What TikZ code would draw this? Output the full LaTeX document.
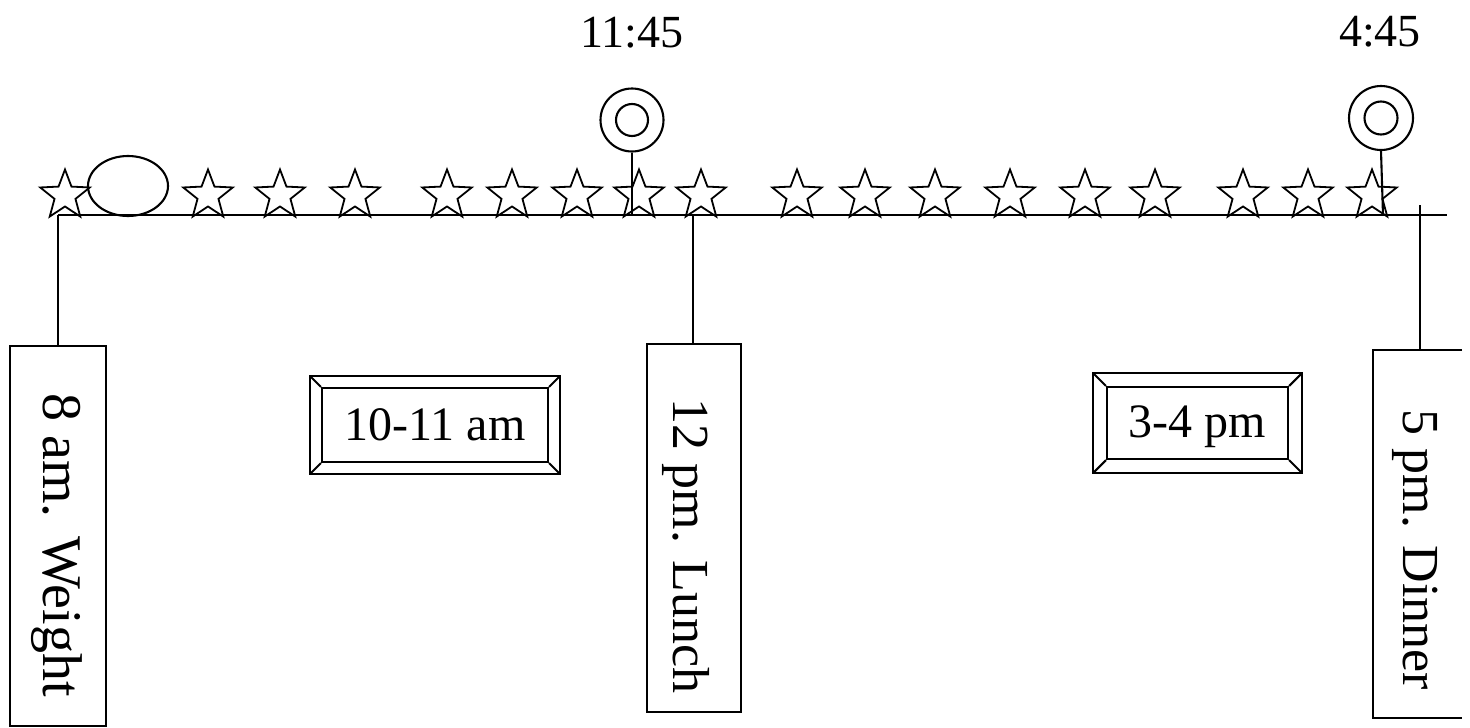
\documentclass[tikz,border=0pt]{standalone}
\usepackage{fontspec}
\usepackage{graphicx}
\setmainfont{Liberation Serif}
\usetikzlibrary{shapes.geometric,calc}
\tikzset{
  ln/.style={line width=2.1pt},
  toplab/.style={font=\fontsize{46}{54}\selectfont, inner sep=0},
  vbox/.style={draw, ln, inner sep=0},
  vlab/.style={inner sep=0, font=\fontsize{52}{60}\selectfont},
  bevelbox/.style={draw, ln, inner sep=0},
  blab/.style={inner sep=0, font=\fontsize{48}{56}\selectfont},
  ring/.style={circle, draw, ln, inner sep=0},
  starline/.style={line width=1.8pt, line join=miter}
}
\begin{document}
\begin{tikzpicture}[x=1pt,y=-1pt]
\useasboundingbox (0,0) rectangle (1470,728);

% timeline
\coordinate (L) at (58,215);
\coordinate (R) at (1447,215);
\draw[ln] (L) -- (R);

% stars
\foreach \sx in {65,208,280,355,447,512,577,639,701,797,865,935,1010,1085,1155,1243,1308,1372}{
  \draw[starline, shift={(\sx,195.5)}]
    (-90:26) -- (-54:11) -- (-18:26) -- (18:11) -- (54:26) -- (90:11)
    -- (126:26) -- (162:11) -- (198:26) -- (234:11) -- cycle;
}

% ellipse
\node[ellipse, draw, ln, minimum width=80, minimum height=60, inner sep=0] (egg) at (128,186) {};

% rings with stems
\node[ring, minimum size=63] (c1) at (632,120) {};
\node[ring, minimum size=32] (c1i) at (632,120) {};
\coordinate (c1b) at (632,215);
\draw[ln] (c1.south) -- (c1b);
\node[ring, minimum size=64] (c2) at (1381,118) {};
\node[ring, minimum size=33] (c2i) at (1381,118) {};
\coordinate (c2b) at (1383,215);
\draw[ln] (c2.south) -- (c2b);

% top labels
\node[toplab, anchor=base] (t1) at (632,47) {11:45};
\node[toplab, anchor=base] (t2) at (1380,46) {4:45};

% vertical boxes
\node[vbox, minimum width=96, minimum height=380] (wbox) at (58,536) {};
\node[vlab, font=\fontsize{56}{64}\selectfont] (wtxt) at ($(wbox.center)+(-1,9)$) {\rotatebox{-90}{8 am. Weight}};
\draw[ln] (L) -- (L |- wbox.north);

\coordinate (lt) at (693,215);
\node[vbox, minimum width=94, minimum height=368] (lbox) at (694,528) {};
\node[vlab] (ltxt) at ($(lbox.center)+(-8,18)$) {\rotatebox{-90}{12 pm. Lunch}};
\draw[ln] (lt) -- (lt |- lbox.north);

\coordinate (dt) at (1420,205);
\node[minimum width=89, minimum height=368, inner sep=0] (dbox) at (1417.5,534) {};
\node[vlab] (dtxt) at ($(dbox.center)+(-2,16)$) {\rotatebox{-90}{5 pm. Dinner}};
\draw[ln] (dbox.north east) -- (dbox.north west) -- (dbox.south west) -- (dbox.south east);
\draw[ln] (dt) -- (dt |- dbox.north);

% bevelled boxes
\node[bevelbox, minimum width=226, minimum height=74] (b1) at (435,425) {};
\node[blab] (b1t) at (b1.center) {10-11 am};
\draw[ln] ($(b1.north west)+(-11,-11)$) rectangle ($(b1.south east)+(11,11)$);
\draw[ln] (b1.north west) -- ++(-11,-11);
\draw[ln] (b1.north east) -- ++(11,-11);
\draw[ln] (b1.south west) -- ++(-11,11);
\draw[ln] (b1.south east) -- ++(11,11);

\node[bevelbox, minimum width=181, minimum height=72] (b2) at (1197.5,423) {};
\node[blab] (b2t) at ($(b2.center)+(0,4)$) {3-4 pm};
\draw[ln] ($(b2.north west)+(-13,-13)$) rectangle ($(b2.south east)+(13,13)$);
\draw[ln] (b2.north west) -- ++(-13,-13);
\draw[ln] (b2.north east) -- ++(13,-13);
\draw[ln] (b2.south west) -- ++(-13,13);
\draw[ln] (b2.south east) -- ++(13,13);
\end{tikzpicture}
\end{document}
